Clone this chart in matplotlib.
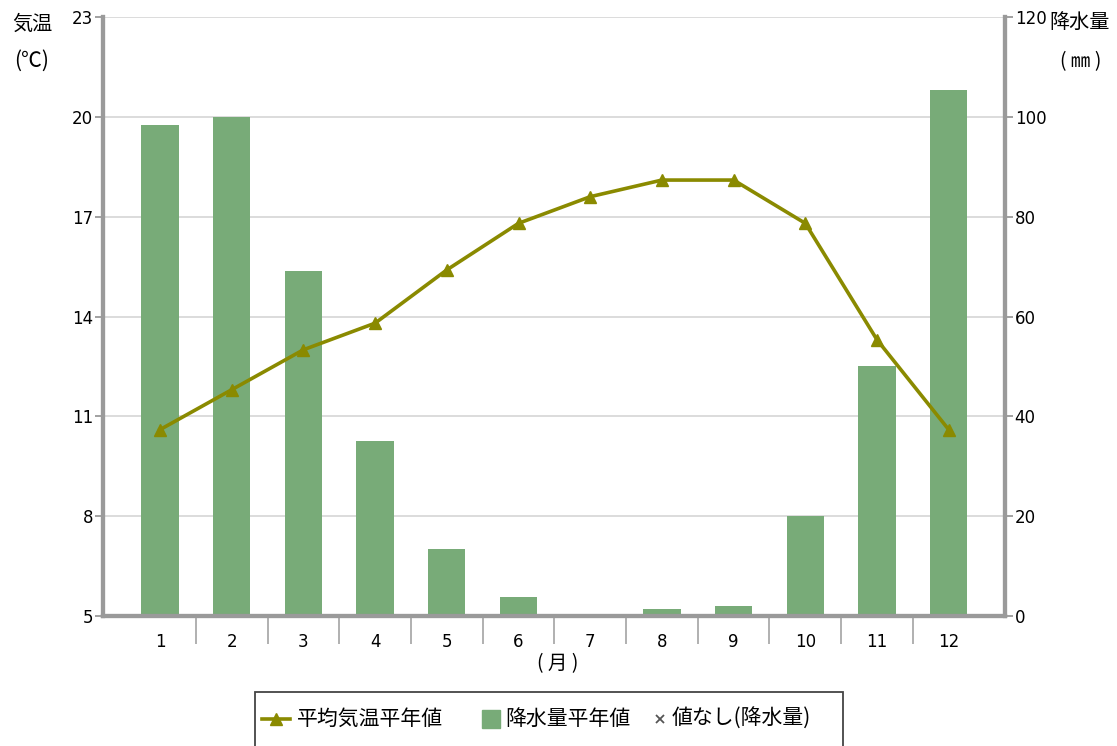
import matplotlib.pyplot as plt
from matplotlib.lines import Line2D
from matplotlib.patches import Rectangle
import numpy as np

plt.rcParams['font.family'] = ['Noto Sans CJK JP', 'DejaVu Sans']

# data
months = ['1', '2', '3', '4', '5', '6', '7', '8', '9', '10', '11', '12']
temp = [10.6, 11.8, 13.0, 13.8, 15.4, 16.8, 17.6, 18.1, 18.1, 16.8, 13.3, 10.6]
precip = [98.4, 100.0, 69.2, 35.0, 13.4, 3.8, 0.0, 1.4, 2.0, 20.0, 50.0, 105.4]
legend_labels = ['平均気温平年値', '降水量平年値', '値なし(降水量)']

bar_color = '#78ab78'
line_color = '#8a8a00'
axis_color = '#9a9a9a'
num_font = 'DejaVu Sans'

W, H = 1117, 746
fig = plt.figure(figsize=(W / 100, H / 100), dpi=100)
ax = fig.add_axes([103 / W, (H - 616) / H, 902 / W, 599 / H])
ax2 = ax.twinx()

x = np.arange(1, 13)

# precipitation bars on right axis
ax2.bar(x, precip, width=0.52, color=bar_color, zorder=2)
ax2.set_ylim(0, 120)
ax2.set_yticks(range(0, 121, 20))
ax2.grid(axis='y', color='#d9d9d9', lw=1.3, zorder=0)
ax2.set_axisbelow(True)

# temperature on left axis, on top of bars
ax.set_zorder(ax2.get_zorder() + 1)
ax.patch.set_visible(False)
ax.plot(x, temp, color=line_color, lw=2.6, marker='^', ms=8, zorder=3)
ax.set_ylim(5, 23)
ax.set_yticks(range(5, 24, 3))
ax.set_xlim(0.205, 12.785)

# month labels centred, separators between months
ax.set_xticks(x)
ax.set_xticklabels(months, fontsize=12, family=num_font)
ax.tick_params(axis='x', length=0, pad=12)
ax.set_xticks(np.arange(1.5, 12.5, 1), minor=True)
ax.tick_params(axis='x', which='minor', length=20, width=1.3, color='#aaaaaa')

for a in (ax, ax2):
    a.tick_params(axis='y', labelsize=12, length=6, width=1.3, color=axis_color, pad=1)
    for lab in a.get_yticklabels():
        lab.set_family(num_font)
    a.spines['top'].set_visible(False)
    for s in ('left', 'right', 'bottom'):
        a.spines[s].set_color(axis_color)
        a.spines[s].set_linewidth(3)

fig.text(32 / W, 1 - 24 / H, '気温', fontsize=14.5, ha='center', va='center')
fig.text(32 / W, 1 - 61 / H, '(℃)', fontsize=15, ha='center', va='center')
fig.text(1080 / W, 1 - 22 / H, '降水量', fontsize=14.5, ha='center', va='center')
fig.text(1081 / W, 1 - 62 / H, '( ㎜ )', fontsize=14, ha='center', va='center')
fig.text(558 / W, 1 - 664 / H, '( 月 )', fontsize=14, ha='center', va='center')

# legend box drawn by hand, cut by the bottom edge
fig.patches.append(Rectangle((255 / W, -0.05), 588 / W, 0.05 + (H - 692) / H,
                             transform=fig.transFigure, fill=False,
                             edgecolor='#444444', lw=1.3))
ly = 1 - 719 / H
fig.add_artist(Line2D([262 / W, 290 / W], [ly, ly], color=line_color, lw=2.6))
fig.add_artist(Line2D([276 / W], [ly], color=line_color, marker='^', ms=8))
fig.text(297 / W, ly, legend_labels[0], fontsize=15, va='center', ha='left')
fig.add_artist(Line2D([491 / W], [ly], color=bar_color, marker='s', ms=13, ls='none'))
fig.text(505 / W, ly, legend_labels[1], fontsize=15, va='center', ha='left')
fig.add_artist(Line2D([660 / W], [ly], color='#555555', marker='x', ms=6, mew=1.3, ls='none'))
fig.text(672 / W, ly, legend_labels[2], fontsize=15, va='center', ha='left')

fig.savefig('out.png', dpi=100)
